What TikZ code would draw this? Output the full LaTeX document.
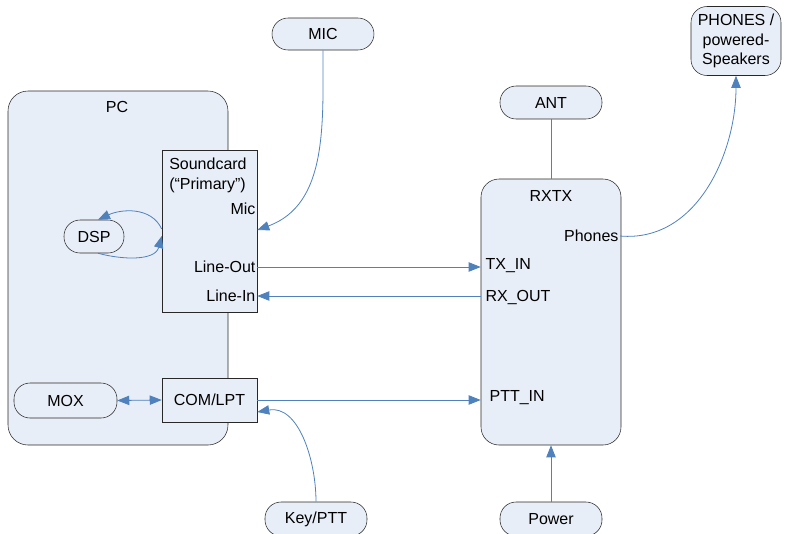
\documentclass[tikz,border=0pt]{standalone}
\usepackage{fontspec}
\setmainfont{Liberation Sans}
\usepackage{tikz}
\usetikzlibrary{arrows.meta}

\definecolor{boxfill}{RGB}{232,238,247}
\definecolor{linkblue}{RGB}{79,129,189}
\definecolor{edge}{RGB}{40,40,40}

\begin{document}
\begin{tikzpicture}[x=0.75pt,y=-0.75pt,>=Stealth,
	font=\fontsize{12}{14.4}\selectfont,
	block/.style={draw=edge,fill=boxfill,inner sep=0pt},
	pill/.style={block,rounded corners=12pt},
	port/.style={inner sep=1pt},
	link/.style={draw=linkblue,line width=0.6pt},
	tip/.style={-{Triangle[length=9pt,width=7pt]}}]
	
	\useasboundingbox (0,0) rectangle (785,533);
	\clip (0,0) rectangle (785,533);
	
	% PC side
	\node[block,rounded corners=15pt,minimum width=165pt,minimum height=265.5pt] (pc) at (118,268) {};
	\node at (117,107) {PC};
	\node[block,minimum width=71.25pt,minimum height=121.5pt] (snd) at (209.5,231) {};
	\node[anchor=north west,align=left,inner sep=0pt] (sndlbl) at (169,158) {Soundcard\\(“Primary”)};
	\node[port,anchor=east] (micin) at (257,209) {Mic};
	\node[port,anchor=east] (lineout) at (257,267) {Line-Out};
	\node[port,anchor=east] (linein) at (257,296) {Line-In};
	\node[pill,minimum width=45pt,minimum height=24.75pt] (dsp) at (94,236.5) {DSP};
	\node[pill,minimum width=77.25pt,minimum height=26.25pt] (mox) at (65.5,400.5) {MOX};
	\node[block,minimum width=71.25pt,minimum height=33pt] (com) at (209.5,400) {COM/LPT};
	
	% radio side
	\node[block,rounded corners=13.5pt,minimum width=105pt,minimum height=199.5pt] (rxtx) at (551,312) {};
	\node at (551,196) {RXTX};
	\node[port,anchor=east] (phones) at (620,236) {Phones};
	\node[port,anchor=west] (txin) at (484,266) {TX\_IN};
	\node[port,anchor=west] (rxout) at (484,297) {RX\_OUT};
	\node[port,anchor=west] (pttin) at (488,398) {PTT\_IN};
	
	% outside
	\node[pill,minimum width=76.5pt,minimum height=24pt] (mic) at (323,34) {MIC};
	\node[pill,minimum width=76.5pt,minimum height=24.75pt] (ant) at (551,102.5) {ANT};
	\node[pill,align=center,minimum width=67.5pt,minimum height=51.75pt] (spk) at (736,41) {PHONES /\\powered-\\Speakers};
	\node[pill,minimum width=76.5pt,minimum height=25.5pt] (key) at (316,519) {Key/PTT};
	\node[pill,minimum width=76.5pt,minimum height=25.5pt] (pwr) at (551,519) {Power};
	
	% connectors
	\draw[link,tip] (mic.south) to[out=-90,in=20] (snd.east |- 0,230);
	\draw[link,tip] (snd.west |- 0,229) to[out=115,in=25] ([xshift=3pt]dsp.north);
	\draw[link,tip] ([xshift=3pt]dsp.south) to[out=-15,in=-105] (snd.west |- 0,236);
	\draw[link,tip] (snd.east |- lineout) -- (rxtx.west |- lineout);
	\draw[link,tip] (rxtx.west |- linein) -- (snd.east |- linein);
	\draw[link,tip] (phones.east) to[out=-5,in=-90] (spk.south);
	\draw[link] (ant.south) -- (rxtx.north);
	\draw[link,tip] (pwr.north) -- (rxtx.south);
	\draw[link,tip] (com.east) -- (rxtx.west |- com.east);
	\draw[link,tip] (key.north) to[out=90,in=10] (com.east |- 0,412);
	\draw[link,{Triangle[length=9pt,width=7pt]}-{Triangle[length=9pt,width=7pt]}] (mox.east) -- (com.west);
	
\end{tikzpicture}
\end{document}
